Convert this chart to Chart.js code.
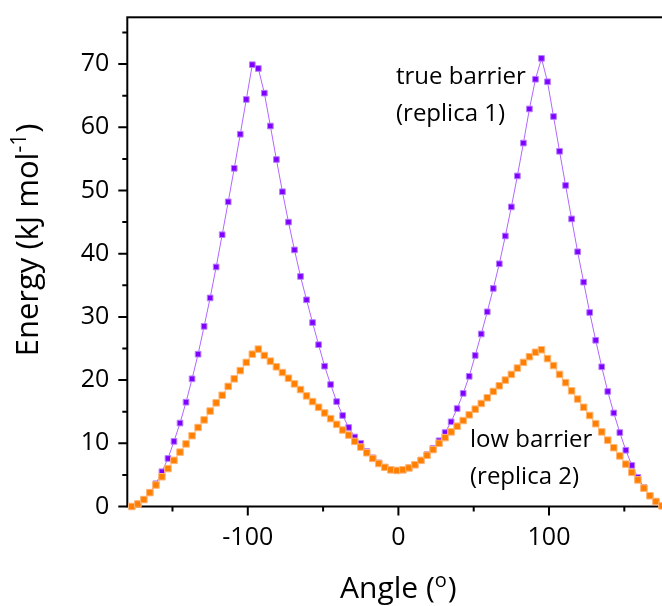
<!DOCTYPE html>
<html><head><meta charset="utf-8">
<script src="https://cdn.jsdelivr.net/npm/chart.js@4/dist/chart.umd.min.js"></script>
<style>
html,body{margin:0;padding:0;background:#fff;overflow:hidden;width:662px;height:606px}
#wrap{position:absolute;left:0;top:0;width:680px;height:606px}
</style>
</head><body><div id="wrap"><canvas id="c" width="680" height="606"></canvas></div>
<script>
// ---- data ----
const angles = [-177,-173,-169,-165,-161,-157,-153,-149,-145,-141,-137,-133,-129,-125,-121,-117,-113,-109,-105,-101,-97,-93,-89,-85,-81,-77,-73,-69,-65,-61,-57,-53,-49,-45,-41,-37,-33,-29,-25,-21,-17,-13,-9,-5,-1,3,7,11,15,19,23,27,31,35,39,43,47,51,55,59,63,67,71,75,79,83,87,91,95,99,103,107,111,115,119,123,127,131,135,139,143,147,151,155,159,163,167,171,175];
const replica1 = [0.0,0.4,1.1,2.2,3.6,5.5,7.6,10.3,13.2,16.5,20.2,24.1,28.5,33.0,37.9,43.0,48.2,53.5,58.9,64.4,69.9,69.3,65.4,60.2,54.9,49.8,45.0,40.6,36.4,32.7,29.1,25.6,22.2,19.3,16.6,14.4,12.5,11.0,10.0,8.7,7.7,6.9,6.2,5.8,5.7,5.8,6.1,6.6,7.3,8.2,9.2,10.4,11.7,13.4,15.5,17.9,20.6,23.9,27.3,30.8,34.5,38.4,42.8,47.4,52.3,57.5,62.9,67.6,70.9,67.2,61.7,56.2,50.8,45.5,40.3,35.5,30.7,26.3,22.1,18.2,14.8,11.7,8.9,6.5,4.6,3.0,1.7,0.8,0.1];
const replica2 = [0.0,0.4,1.1,2.2,3.4,4.7,6.0,7.3,8.6,9.9,11.2,12.5,13.7,15.1,16.4,17.6,19.0,20.2,21.5,22.8,24.1,24.9,23.9,23.0,22.1,21.2,20.3,19.4,18.5,17.5,16.6,15.7,14.8,13.9,13.0,12.1,11.3,10.3,9.4,8.5,7.6,6.8,6.2,5.8,5.7,5.8,6.1,6.6,7.3,8.1,9.0,10.0,10.9,11.8,12.7,13.6,14.5,15.4,16.3,17.2,18.2,19.1,20.0,20.9,21.9,22.8,23.7,24.4,24.8,23.4,22.3,20.9,19.6,18.3,17.0,15.7,14.4,13.1,11.8,10.5,9.3,8.0,6.7,5.4,4.2,2.9,1.7,0.8,0.1];
const xMajorTicks = [-100, 0, 100];
const xMinorTicks = [-150, -50, 50, 150];
const yMajorTicks = [0, 10, 20, 30, 40, 50, 60, 70];
const yMinorTicks = [5, 15, 25, 35, 45, 55, 65, 75];
const xRange = [-180, 180];
const yRange = [0, 77.4];
const labelReplica1 = ['true barrier', '(replica 1)'];
const labelReplica2 = ['low barrier', '(replica 2)'];

// ---- drawing ----
const FONT = '"Open Sans", sans-serif';
const pts = (ys) => angles.map((a, i) => ({x: a, y: ys[i]}));

function drawRich(ctx, parts, x, y, align) {
  let total = 0;
  parts.forEach(p => { ctx.font = p.size + 'px ' + FONT; p.w = ctx.measureText(p.t).width + (p.gap || 0); total += p.w; });
  let cx = align === 'center' ? x - total / 2 : x;
  parts.forEach(p => { ctx.font = p.size + 'px ' + FONT; ctx.fillText(p.t, cx, y - (p.dy || 0)); cx += p.w; });
}

const deco = {
  id: 'deco',
  beforeDatasetsDraw(chart) {
    const {ctx, chartArea: a, scales: {x, y}} = chart;
    ctx.save();
    ctx.strokeStyle = '#000';
    ctx.lineWidth = 2;
    ctx.strokeRect(a.left, a.top, a.right - a.left, a.bottom - a.top);
    ctx.beginPath();
    xMajorTicks.forEach(v => { const p = x.getPixelForValue(v); ctx.moveTo(p, a.bottom); ctx.lineTo(p, a.bottom + 9); });
    xMinorTicks.forEach(v => { const p = x.getPixelForValue(v); ctx.moveTo(p, a.bottom); ctx.lineTo(p, a.bottom + 5); });
    yMajorTicks.forEach(v => { const p = y.getPixelForValue(v); ctx.moveTo(a.left, p); ctx.lineTo(a.left - 9, p); });
    yMinorTicks.forEach(v => { const p = y.getPixelForValue(v); ctx.moveTo(a.left, p); ctx.lineTo(a.left - 5, p); });
    ctx.stroke();
    ctx.restore();
  },
  afterDraw(chart) {
    const {ctx, scales: {x}} = chart;
    ctx.save();
    ctx.fillStyle = '#000';
    ctx.textBaseline = 'alphabetic';
    ctx.textAlign = 'left';
    // x title
    drawRich(ctx, [{t: 'Angle (', size: 30}, {t: 'o', size: 20, dy: 11, gap: 1}, {t: ')', size: 30}], x.getPixelForValue(0), 598, 'center');
    // y title
    ctx.save();
    ctx.translate(38, 240);
    ctx.rotate(-Math.PI / 2);
    drawRich(ctx, [{t: 'Energy (kJ mol', size: 31}, {t: '-1', size: 21, dy: 12, gap: 1}, {t: ')', size: 31}], 0, 0, 'center');
    ctx.restore();
    // annotations
    ctx.font = '24px ' + FONT;
    ctx.fillText(labelReplica1[0], 396, 84);
    ctx.fillText(labelReplica1[1], 396, 121);
    ctx.fillText(labelReplica2[0], 470, 447);
    ctx.fillText(labelReplica2[1], 470, 484);
    ctx.restore();
  }
};

new Chart(document.getElementById('c'), {
  type: 'scatter',
  data: {
    datasets: [
      {
        label: 'replica 2',
        data: pts(replica2),
        showLine: true,
        borderColor: '#ffb266',
        borderWidth: 1,
        pointStyle: 'rect',
        pointRadius: 4.6,
        pointBackgroundColor: '#ff7f00',
        pointBorderColor: '#ffb877',
        pointBorderWidth: 1,
        clip: false
      },
      {
        label: 'replica 1',
        data: pts(replica1),
        showLine: true,
        borderColor: '#b266ff',
        borderWidth: 1,
        pointStyle: 'rect',
        pointRadius: 4.0,
        pointBackgroundColor: '#7f00ff',
        pointBorderColor: '#b77fff',
        pointBorderWidth: 1,
        clip: false
      }
    ]
  },
  options: {
    responsive: false,
    animation: false,
    devicePixelRatio: 1,
    layout: {padding: {top: 17.3, right: 10.5, left: 0, bottom: 0}},
    plugins: {legend: {display: false}, tooltip: {enabled: false}},
    scales: {
      x: {
        type: 'linear', min: xRange[0], max: xRange[1],
        border: {display: false},
        grid: {display: false, drawTicks: false},
        afterBuildTicks: s => { s.ticks = xMajorTicks.map(v => ({value: v})); },
        afterFit: s => { s.height = 99.5; s.paddingLeft = 0; s.paddingRight = 0; },
        ticks: {padding: 16, color: '#000', font: {family: FONT, size: 25}, maxRotation: 0,
                callback: v => String(v)}
      },
      y: {
        type: 'linear', min: yRange[0], max: yRange[1],
        border: {display: false},
        grid: {display: false, drawTicks: false},
        afterBuildTicks: s => { s.ticks = yMajorTicks.map(v => ({value: v})); },
        afterFit: s => { s.width = 127.3; s.paddingTop = 0; s.paddingBottom = 0; },
        ticks: {padding: 18, color: '#000', font: {family: FONT, size: 25},
                callback: v => String(v)}
      }
    }
  },
  plugins: [deco]
});
</script>
</body></html>
